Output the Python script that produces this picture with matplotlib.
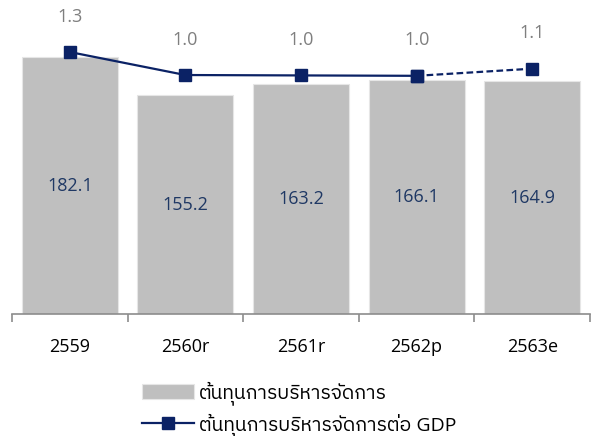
import matplotlib
matplotlib.use("Agg")
import matplotlib.pyplot as plt
from matplotlib import font_manager
from matplotlib.ft2font import FT2Font

# data
years = ["2559", "2560r", "2561r", "2562p", "2563e"]
cost = [182.1, 155.2, 163.2, 166.1, 164.9]
cost_gdp = [1.27, 0.98, 0.975, 0.97, 1.06]
bar_label = "ต้นทุนการบริหารจัดการ"
line_label = "ต้นทุนการบริหารจัดการต่อ GDP"

# find a font with Thai glyphs
thai_font = None
for f in font_manager.fontManager.ttflist:
    try:
        if 0x0E15 in FT2Font(f.fname).get_charmap():
            thai_font = f.name
            if "Thai" in f.name or "Tahoma" in f.name:
                break
    except Exception:
        pass
families = ["Open Sans"] + ([thai_font] if thai_font else []) + ["DejaVu Sans"]
plt.rcParams["font.family"] = families

navy = "#0b2265"
grey_bar = "#bfbfbf"
fs = 13

fig = plt.figure(figsize=(5.99, 4.36), dpi=100)
ax = fig.add_axes([0.02, 0.2798, 0.965, 0.7087])
x = list(range(len(years)))
ax.bar(x, cost, width=0.83, color=grey_bar, edgecolor="#e6e6e6", linewidth=0.8, label=bar_label)
ax.set_xlim(-0.5, len(years) - 0.5)
ax.set_ylim(0, 219)
for xi, v in zip(x, cost):
    ax.text(xi, v / 2, f"{v:.1f}", ha="center", va="center", color="#1f3864", fontsize=fs)

ax.set_yticks([])
for s in ["top", "right", "left"]:
    ax.spines[s].set_visible(False)
ax.spines["bottom"].set_color("#8c8c8c")
ax.spines["bottom"].set_linewidth(1.2)
ax.set_xticks([i - 0.5 for i in range(len(years) + 1)])
ax.set_xticklabels([])
ax.tick_params(axis="x", which="major", length=6, width=1.2, color="#8c8c8c", direction="out")
ax.set_xticks(x, minor=True)
ax.set_xticklabels(years, minor=True, fontsize=fs)
ax.tick_params(axis="x", which="minor", length=0, pad=17)

ax2 = ax.twinx()
ax2.set_ylim(-2.034, 1.863)
ax2.axis("off")
ax2.plot(x[:4], cost_gdp[:4], color=navy, lw=1.6, marker="s", ms=8, label=line_label)
ax2.plot(x[3:], cost_gdp[3:], color=navy, lw=1.6, ls=(0, (3, 1.5)), marker="s", ms=8)
for xi, v in zip(x, cost_gdp):
    ax2.annotate(f"{v:.1f}", (xi, v), xytext=(0, 25.5), textcoords="offset points",
                 ha="center", va="center", color="#7f7f7f", fontsize=fs)

h1, l1 = ax.get_legend_handles_labels()
h2, l2 = ax2.get_legend_handles_labels()
fig.legend(h1 + h2, l1 + l2, loc="upper left", bbox_to_anchor=(0.22, 0.148),
           frameon=False, fontsize=14, handlelength=2.7, handleheight=0.8,
           handletextpad=0.25, labelspacing=0.42, borderpad=0)

plt.savefig("out.png", dpi=100)
